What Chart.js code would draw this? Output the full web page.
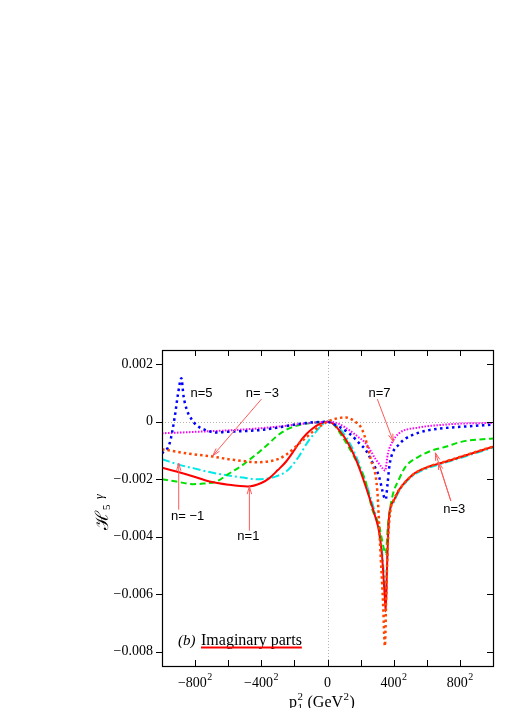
<!DOCTYPE html>
<html>
<head>
<meta charset="utf-8">
<script src="https://cdn.jsdelivr.net/npm/chart.js@4.4.1/dist/chart.umd.min.js"></script>
<style>
  html, body { margin: 0; padding: 0; background: #fff; }
  #wrap { width: 518px; height: 708px; }
</style>
</head>
<body>
<div id="wrap"><canvas id="chart" width="518" height="708"></canvas></div>
<script>
// axis ticks
const xTicks = [-1000, -800, -600, -400, -200, 0, 200, 400, 600, 800, 1000];
const xLabels = ['', '−800', '', '−400', '', '0', '', '400', '', '800', ''];
const xSup = ['', '2', '', '2', '', '', '', '2', '', '2', ''];
const yTicks = [-0.008, -0.006, -0.004, -0.002, 0, 0.002];
const yLabels = ['−0.008', '−0.006', '−0.004', '−0.002', '0', '0.002'];

// n=1 (red solid)
const n1X = [-1000,-913,-800,-713,-600,-482,-400,-351,-300,-251,-200,-170,-130,-90,-50,0,30,70,120,171,231,291,311,330,345,352,360,372,400,432,512,612,713,813,1000];
const n1Y = [-0.00160,-0.00173,-0.00192,-0.00208,-0.00219,-0.00225,-0.00213,-0.00196,-0.00168,-0.00139,-0.00098,-0.00072,-0.00044,-0.00023,-0.00008,0,-0.00005,-0.00029,-0.00070,-0.00130,-0.00225,-0.00335,-0.00380,-0.00470,-0.00600,-0.00660,-0.00500,-0.00330,-0.00275,-0.00237,-0.00185,-0.00156,-0.00139,-0.00121,-0.00087];

// n=-1 (cyan dash-dot)
const nm1X = [-1000,-893,-800,-713,-600,-512,-431,-350,-311,-250,-211,-170,-130,-100,-70,-35,0,30,70,120,171,231,291,311,330,345,352,360,372,400,432,512,612,713,813,1000];
const nm1Y = [-0.00130,-0.00150,-0.00163,-0.00175,-0.00187,-0.00194,-0.00200,-0.00196,-0.00190,-0.00173,-0.00150,-0.00118,-0.00080,-0.00055,-0.00035,-0.00012,0,-0.00004,-0.00022,-0.00060,-0.00118,-0.00210,-0.00325,-0.00375,-0.00450,-0.00570,-0.00630,-0.00480,-0.00335,-0.00280,-0.00242,-0.00189,-0.00160,-0.00142,-0.00124,-0.00090];

// n=-3 (orange dotted)
const nm3X = [-1000,-973,-850,-693,-600,-500,-431,-350,-300,-251,-200,-171,-130,-90,-50,0,50,110,160,211,261,301,317,335,347,355,365,380,400,432,512,612,713,813,1000];
const nm3Y = [-0.00096,-0.00098,-0.00110,-0.00121,-0.00130,-0.00137,-0.00141,-0.00137,-0.00130,-0.00115,-0.00091,-0.00075,-0.00055,-0.00035,-0.00017,0,0.00011,0.00015,0.00003,-0.00029,-0.00130,-0.00240,-0.00420,-0.00620,-0.00780,-0.00600,-0.00420,-0.00310,-0.00272,-0.00238,-0.00186,-0.00156,-0.00138,-0.00120,-0.00086];

// n=3 (green dashed)
const n3X = [-1000,-913,-813,-750,-672,-600,-512,-450,-411,-350,-311,-250,-170,-70,0,30,90,140,191,231,271,311,340,352,365,392,432,472,552,630,713,813,1000];
const n3Y = [-0.00200,-0.00208,-0.00217,-0.00215,-0.00208,-0.00182,-0.00150,-0.00122,-0.00104,-0.00073,-0.00052,-0.00028,-0.00011,-0.00002,0,-0.00005,-0.00052,-0.00100,-0.00156,-0.00210,-0.00306,-0.00360,-0.00440,-0.00460,-0.00360,-0.00260,-0.00200,-0.00156,-0.00121,-0.00100,-0.00087,-0.00069,-0.00058];

// n=5 (blue dotted)
const n5X = [-1000,-954,-923,-903,-883,-870,-849,-820,-793,-740,-672,-612,-500,-411,-300,-211,-130,0,30,131,201,231,270,311,341,352,362,375,392,430,472,540,613,700,813,1000];
const n5Y = [-0.00110,-0.00075,0.00017,0.00098,0.00152,0.00090,0.00040,0.00008,-0.00011,-0.00028,-0.00037,-0.00035,-0.00032,-0.00029,-0.00020,-0.00011,-0.00004,0,-0.00006,-0.00040,-0.00080,-0.00098,-0.00140,-0.00190,-0.00260,-0.00270,-0.00220,-0.00150,-0.00110,-0.00080,-0.00058,-0.00040,-0.00029,-0.00022,-0.00017,-0.00010];

// n=7 (magenta fine dots)
const n7X = [-1000,-800,-572,-400,-271,-150,0,60,131,180,231,291,330,348,365,392,432,552,700,813,1000];
const n7Y = [-0.00040,-0.00035,-0.00029,-0.00022,-0.00015,-0.00007,0,-0.00005,-0.00029,-0.00050,-0.00075,-0.00130,-0.00160,-0.00170,-0.00110,-0.00070,-0.00040,-0.00020,-0.00010,-0.00006,-0.00004];

// labels with arrows (data coordinates)
const noteText = ['n=5', 'n= −3', 'n= −1', 'n=1', 'n=7', 'n=3'];
const noteX = [-761, -393, -845, -478, 314, 766];
const noteY = [0.00099, 0.00099, -0.00330, -0.00400, 0.00099, -0.00306];
const arrowFrom = [[-399, 0.00079], [-899, -0.00306], [-472, -0.00379], [301, 0.00079], [745, -0.00275], [745, -0.00275]];
const arrowTo = [[-693, -0.00118], [-899, -0.00144], [-472, -0.00225], [398, -0.00069], [652, -0.00108], [670, -0.00140]];

function pts(xs, ys) {
	return xs.map((x, i) => ({ x: x, y: ys[i] }));
}

function arrow(ctx, x1, y1, x2, y2) {
	const ang = Math.atan2(y2 - y1, x2 - x1), h = 8, w = 0.28;
	ctx.beginPath();
	ctx.moveTo(x1, y1);
	ctx.lineTo(x2, y2);
	ctx.moveTo(x2 - h * Math.cos(ang - w), y2 - h * Math.sin(ang - w));
	ctx.lineTo(x2, y2);
	ctx.lineTo(x2 - h * Math.cos(ang + w), y2 - h * Math.sin(ang + w));
	ctx.stroke();
}

const framePlugin = {
	id: 'framePlugin',
	beforeDatasetsDraw(chart) {
		const { ctx, chartArea: a, scales: { x, y } } = chart;
		const x0 = Math.round(x.getPixelForValue(0)) + 0.5;
		const y0 = Math.round(y.getPixelForValue(0)) + 0.5;
		ctx.save();
		ctx.strokeStyle = '#b4b4b4';
		ctx.lineWidth = 1;
		ctx.setLineDash([1, 2]);
		ctx.beginPath();
		ctx.moveTo(x0, a.top);
		ctx.lineTo(x0, a.bottom);
		ctx.moveTo(a.left, y0);
		ctx.lineTo(a.right, y0);
		ctx.stroke();
		ctx.restore();
	},
	afterDraw(chart) {
		const { ctx, chartArea: a, scales: { x, y } } = chart;
		ctx.save();
		// frame
		ctx.strokeStyle = '#000';
		ctx.lineWidth = 1.2;
		ctx.strokeRect(a.left + 0.5, a.top + 0.5, a.right - a.left, a.bottom - a.top);
		// ticks
		ctx.lineWidth = 1;
		ctx.beginPath();
		xTicks.forEach(v => {
			const px = Math.round(x.getPixelForValue(v)) + 0.5;
			ctx.moveTo(px, a.bottom);
			ctx.lineTo(px, a.bottom - 6);
			ctx.moveTo(px, a.top);
			ctx.lineTo(px, a.top + 6);
		});
		yTicks.forEach(v => {
			const py = Math.round(y.getPixelForValue(v)) + 0.5;
			ctx.moveTo(a.left - 6, py);
			ctx.lineTo(a.left, py);
			ctx.moveTo(a.right, py);
			ctx.lineTo(a.right - 6, py);
		});
		ctx.stroke();

		// x tick labels with superscript 2
		ctx.fillStyle = '#000';
		ctx.textBaseline = 'alphabetic';
		ctx.textAlign = 'left';
		xTicks.forEach((v, i) => {
			if (!xLabels[i]) return;
			ctx.font = '14px "Liberation Serif"';
			const bw = ctx.measureText(xLabels[i]).width;
			ctx.font = '10px "Liberation Serif"';
			const sw = xSup[i] ? ctx.measureText(xSup[i]).width + 0.5 : 0;
			const sx = x.getPixelForValue(v) - (bw + sw) / 2;
			ctx.font = '14px "Liberation Serif"';
			ctx.fillText(xLabels[i], sx, 687);
			if (xSup[i]) {
				ctx.font = '10px "Liberation Serif"';
				ctx.fillText(xSup[i], sx + bw + 0.5, 680);
			}
		});

		// x title: p_1^2 (GeV^2)
		let tx = 289, ty = 707;
		ctx.font = '16px "Liberation Serif"';
		ctx.fillText('p', tx, ty);
		tx += ctx.measureText('p').width;
		ctx.font = '11px "Liberation Serif"';
		ctx.fillText('2', tx + 0.5, ty - 7);
		ctx.fillText('1', tx + 0.5, ty + 4);
		tx += ctx.measureText('2').width + 1;
		ctx.font = '16px "Liberation Serif"';
		ctx.fillText(' (GeV', tx, ty);
		tx += ctx.measureText(' (GeV').width;
		ctx.font = '11px "Liberation Serif"';
		ctx.fillText('2', tx + 0.5, ty - 7);
		tx += ctx.measureText('2').width + 1;
		ctx.font = '16px "Liberation Serif"';
		ctx.fillText(')', tx, ty);

		// y title: H_5^gamma, rotated
		ctx.save();
		ctx.translate(108, 530);
		ctx.rotate(-Math.PI / 2);
		ctx.font = '18px "DejaVu Serif"';
		ctx.fillText('ℋ', 0, 0);
		const hw = ctx.measureText('ℋ').width;
		ctx.font = '11px "Liberation Serif"';
		ctx.fillText('5', hw + 1, 2);
		ctx.font = 'italic 12px "Liberation Serif"';
		ctx.fillText('γ', hw + 12, -5);
		ctx.restore();

		// (b) Imaginary parts
		ctx.font = 'italic 15px "Liberation Serif"';
		ctx.fillText('(b)', 178, 645);
		ctx.font = '16px "Liberation Serif"';
		ctx.fillText('Imaginary parts', 201, 645);
		const iw = ctx.measureText('Imaginary parts').width;
		ctx.fillStyle = '#ff0000';
		ctx.fillRect(201, 646.5, iw, 2);

		// arrows and curve labels
		ctx.strokeStyle = '#ff5a5a';
		ctx.lineWidth = 1;
		arrowFrom.forEach((f, i) => {
			arrow(ctx, x.getPixelForValue(f[0]), y.getPixelForValue(f[1]),
				x.getPixelForValue(arrowTo[i][0]), y.getPixelForValue(arrowTo[i][1]));
		});
		ctx.fillStyle = '#000';
		ctx.font = '13px "Liberation Sans"';
		ctx.textAlign = 'center';
		ctx.textBaseline = 'middle';
		noteText.forEach((t, i) => {
			ctx.fillText(t, x.getPixelForValue(noteX[i]), y.getPixelForValue(noteY[i]));
		});
		ctx.restore();
	}
};

Chart.defaults.font.family = '"Liberation Serif"';
Chart.defaults.color = '#000';

const common = { fill: false, pointRadius: 0, cubicInterpolationMode: 'monotone', borderCapStyle: 'butt' };

new Chart(document.getElementById('chart'), {
	type: 'line',
	data: {
		datasets: [
			{ ...common, label: 'n=-3', data: pts(nm3X, nm3Y), borderColor: '#ff4500', borderWidth: 2.5, borderDash: [2.5, 3] },
			{ ...common, label: 'n=5', data: pts(n5X, n5Y), borderColor: '#0000ff', borderWidth: 2.5, borderDash: [2.5, 3.5] },
			{ ...common, label: 'n=7', data: pts(n7X, n7Y), borderColor: '#ff00ff', borderWidth: 2, borderDash: [1.5, 1.5] },
			{ ...common, label: 'n=1', data: pts(n1X, n1Y), borderColor: '#ff0000', borderWidth: 2 },
			{ ...common, label: 'n=3', data: pts(n3X, n3Y), borderColor: '#00e000', borderWidth: 2, borderDash: [6, 3.5] },
			{ ...common, label: 'n=-1', data: pts(nm1X, nm1Y), borderColor: '#00e8e8', borderWidth: 2, borderDash: [8, 3, 2, 3] }
		]
	},
	options: {
		responsive: false,
		animation: false,
		layout: { padding: { top: 350, right: 25, bottom: 0, left: 0 } },
		plugins: { legend: { display: false }, tooltip: { enabled: false } },
		scales: {
			x: {
				type: 'linear',
				min: -1000,
				max: 1000,
				afterBuildTicks: s => { s.ticks = xTicks.map(v => ({ value: v })); },
				afterFit: s => { s.height = 42; },
				grid: { display: false, drawTicks: false },
				border: { display: false },
				ticks: { display: false }
			},
			y: {
				min: -0.0085,
				max: 0.0025,
				afterBuildTicks: s => { s.ticks = yTicks.map(v => ({ value: v })); },
				afterFit: s => { s.width = 162; },
				grid: { display: false, drawTicks: false },
				border: { display: false },
				ticks: {
					autoSkip: false,
					padding: 9,
					font: { size: 14 },
					callback: (v, i) => yLabels[i]
				}
			}
		}
	},
	plugins: [framePlugin]
});
</script>
</body>
</html>
